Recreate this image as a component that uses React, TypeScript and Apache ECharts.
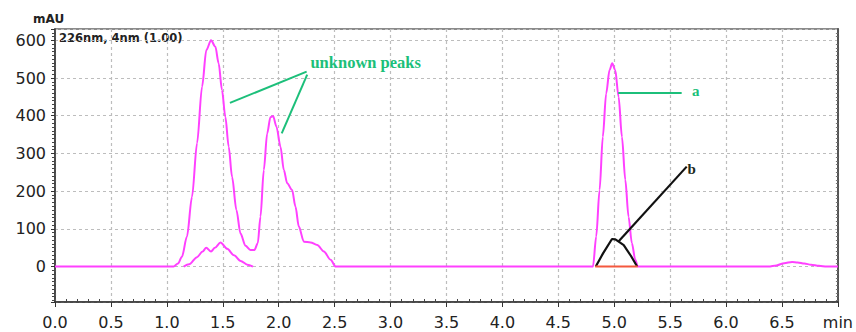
import React, { useEffect, useRef } from "react";
import * as echarts from "echarts";

// Retention time (min) / absorbance (mAU) pairs
const sampleTrace: [number, number][] = [
  [0, 0], [1.06, 0], [1.1, 8], [1.135, 26], [1.18, 80], [1.225, 185], [1.27, 327],
  [1.315, 477], [1.353, 574], [1.395, 600], [1.434, 583], [1.463, 539], [1.493, 468],
  [1.523, 397], [1.553, 318], [1.583, 238], [1.622, 150], [1.658, 88], [1.703, 55],
  [1.747, 44], [1.783, 44], [1.813, 62], [1.837, 132], [1.867, 256], [1.897, 353],
  [1.926, 396], [1.95, 399], [1.98, 371], [2.016, 318], [2.046, 256], [2.076, 221],
  [2.12, 203], [2.15, 159], [2.18, 106], [2.225, 66], [2.285, 64], [2.345, 57],
  [2.404, 40], [2.464, 18], [2.51, 0], [4.81, 0], [4.839, 80], [4.869, 203],
  [4.898, 344], [4.928, 459], [4.958, 521], [4.982, 539], [5.009, 521], [5.039, 450],
  [5.069, 344], [5.099, 230], [5.128, 132], [5.158, 62], [5.188, 18], [5.212, 0],
  [6.38, 0], [6.45, 3], [6.52, 9], [6.59, 12], [6.64, 11], [6.7, 8], [6.76, 5],
  [6.83, 2], [6.9, 0], [7, 0],
];

const blankTrace: [number, number][] = [
  [1.15, 0], [1.2, 6], [1.27, 25], [1.32, 40], [1.352, 50], [1.395, 40], [1.43, 50],
  [1.48, 64], [1.54, 47], [1.6, 30], [1.66, 15], [1.72, 5], [1.77, 0],
];

const peakB: [number, number][] = [
  [4.835, 0], [4.9, 35], [4.98, 73], [5.01, 72], [5.04, 66], [5.085, 57], [5.15, 28], [5.205, 0],
];

const integrationBaseline: [number, number][] = [[4.83, 0], [5.21, 0]];

const xTickLabels = [
  "0.0", "0.5", "1.0", "1.5", "2.0", "2.5", "3.0", "3.5", "4.0", "4.5", "5.0", "5.5", "6.0", "6.5", "min",
];

const yTickValues = [0, 100, 200, 300, 400, 500, 600];

// Leader lines: [from, to] in (min, mAU)
const unknownLeaders: [[number, number], [number, number]][] = [
  [[2.25, 517], [1.564, 434]],
  [[2.255, 509], [2.027, 353]],
];
const leaderA: [[number, number], [number, number]] = [[5.036, 462], [5.603, 462]];
const leaderB: [[number, number], [number, number]] = [[5.036, 66], [5.648, 265]];

const labelUnknown: [number, number] = [2.778, 541];
const labelA: [number, number] = [5.73, 465];
const labelB: [number, number] = [5.692, 259];

const MAGENTA = "#ff40ff";
const GREEN = "#1cbf7a";

const textPoint = (coord: [number, number], text: string, color: string, size: number) => ({
  coord,
  symbol: "rect",
  symbolSize: 1,
  itemStyle: { color: "rgba(0,0,0,0)" },
  label: {
    show: true,
    position: "inside",
    formatter: text,
    color,
    fontFamily: "Liberation Serif",
    fontWeight: "bold",
    fontSize: size,
  },
});

export default function App() {
  const ref = useRef<HTMLDivElement>(null);

  useEffect(() => {
    if (!ref.current) return;
    const chart = echarts.init(ref.current, undefined, { renderer: "svg" });

    const gridLine = { show: true, lineStyle: { color: "#bdbdbd", type: [3, 3], width: 1.2 } };

    chart.setOption({
      animation: false,
      backgroundColor: "#ffffff",
      grid: {
        left: 55,
        right: 18,
        top: 29,
        bottom: 30,
        show: true,
        borderColor: "#666",
        borderWidth: 1.5,
      },
      xAxis: [
        {
          type: "value",
          min: 0,
          max: 7,
          interval: 0.5,
          position: "bottom",
          axisLine: { show: true, onZero: false, lineStyle: { color: "#333", width: 1.5 } },
          axisTick: { show: true, length: 5, lineStyle: { color: "#333" } },
          axisLabel: {
            formatter: (v: number) => xTickLabels[Math.round(v / 0.5)] ?? "",
            fontFamily: "DejaVu Sans",
            fontSize: 16,
            color: "#222",
            margin: 12,
          },
          splitLine: gridLine,
        },
        {
          type: "value",
          min: 0,
          max: 7,
          interval: 0.5,
          position: "bottom",
          axisLine: { show: false, onZero: false },
          axisTick: { show: false, inside: true },
          minorTick: { show: true, splitNumber: 5, length: 3, lineStyle: { color: "#444" } },
          axisLabel: { show: false },
          splitLine: { show: false },
        },
      ],
      yAxis: [
        {
          type: "value",
          min: -94,
          max: 630,
          splitNumber: 7,
          position: "left",
          axisLine: { show: true, onZero: false, lineStyle: { color: "#333", width: 1.5 } },
          axisTick: { show: true, length: 4, lineStyle: { color: "#333" } },
          minorTick: { show: true, splitNumber: 10, length: 3, lineStyle: { color: "#444" } },
          axisLabel: {
            formatter: (v: number) => (yTickValues.includes(v) ? String(v) : ""),
            fontFamily: "DejaVu Sans",
            fontSize: 16,
            color: "#222",
            margin: 9,
          },
          splitLine: gridLine,
        },
        {
          type: "value",
          min: -94,
          max: 630,
          splitNumber: 7,
          position: "right",
          axisLine: { show: true, onZero: false, lineStyle: { color: "#555", width: 2 } },
          axisTick: { show: false, inside: true },
          minorTick: { show: true, splitNumber: 10, length: 2, lineStyle: { color: "#777" } },
          axisLabel: { show: false },
          splitLine: { show: false },
        },
      ],
      graphic: [
        {
          type: "text",
          left: 33,
          top: 13,
          style: { text: "mAU", fontFamily: "DejaVu Sans", fontWeight: "bold", fontSize: 12, fill: "#222" },
        },
        {
          type: "text",
          left: 59,
          top: 32,
          style: {
            text: "226nm, 4nm (1.00)",
            fontFamily: "DejaVu Sans",
            fontWeight: "bold",
            fontSize: 11.5,
            fill: "#222",
          },
        },
      ],
      series: [
        {
          name: "sample",
          type: "line",
          data: sampleTrace,
          showSymbol: false,
          smooth: 0.3,
          smoothMonotone: "x",
          lineStyle: { color: MAGENTA, width: 2 },
          z: 3,
          markLine: {
            silent: true,
            symbol: ["none", "none"],
            label: { show: false },
            lineStyle: { color: GREEN, width: 2, type: "solid" },
            data: [
              ...unknownLeaders.map(([a, b]) => [{ coord: a }, { coord: b }]),
              [{ coord: leaderA[0] }, { coord: leaderA[1] }],
            ],
          },
          markPoint: {
            silent: true,
            data: [
              textPoint(labelUnknown, "unknown peaks", GREEN, 16.5),
              textPoint(labelA, "a", GREEN, 15),
            ],
          },
        },
        {
          name: "blank",
          type: "line",
          data: blankTrace,
          showSymbol: false,
          smooth: 0.3,
          smoothMonotone: "x",
          lineStyle: { color: MAGENTA, width: 2 },
          z: 3,
        },
        {
          name: "b",
          type: "line",
          data: peakB,
          showSymbol: false,
          lineStyle: { color: "#111", width: 2.2 },
          z: 4,
          markLine: {
            silent: true,
            symbol: ["none", "none"],
            label: { show: false },
            lineStyle: { color: "#111", width: 2.2, type: "solid" },
            data: [[{ coord: leaderB[0] }, { coord: leaderB[1] }]],
          },
          markPoint: {
            silent: true,
            data: [textPoint(labelB, "b", "#1b2a1b", 15)],
          },
        },
        {
          name: "baseline",
          type: "line",
          data: integrationBaseline,
          showSymbol: false,
          lineStyle: { color: "#f4583f", width: 2 },
          z: 5,
        },
      ],
    });

    return () => chart.dispose();
  }, []);

  return (
    <div
      ref={ref}
      style={{ position: "fixed", left: 0, top: 0, width: 856, height: 332, background: "#fff" }}
    />
  );
}
